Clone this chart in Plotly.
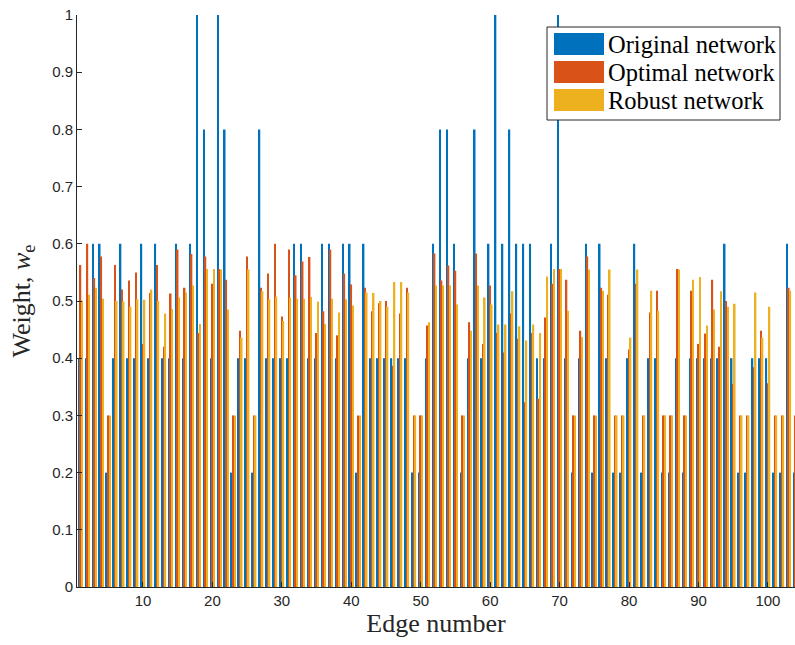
import plotly.graph_objects as go

edges = list(range(1, 105))

original = [0.4, 0.4, 0.6, 0.6, 0.2, 0.4, 0.6, 0.4, 0.4, 0.6,
            0.4, 0.6, 0.4, 0.4, 0.6, 0.4, 0.6, 1.0, 0.8, 0.4,
            1.0, 0.8, 0.2, 0.4, 0.4, 0.2, 0.8, 0.4, 0.4, 0.4,
            0.4, 0.6, 0.6, 0.4, 0.4, 0.6, 0.6, 0.4, 0.6, 0.6,
            0.2, 0.6, 0.4, 0.4, 0.4, 0.4, 0.4, 0.4, 0.2, 0.2,
            0.4, 0.6, 0.8, 0.8, 0.6, 0.2, 0.4, 0.8, 0.4, 0.6,
            1.0, 0.6, 0.8, 0.6, 0.6, 0.6, 0.4, 0.4, 0.6, 1.0,
            0.4, 0.2, 0.4, 0.6, 0.2, 0.6, 0.4, 0.2, 0.2, 0.4,
            0.6, 0.2, 0.4, 0.4, 0.2, 0.2, 0.4, 0.2, 0.4, 0.4,
            0.4, 0.4, 0.4, 0.6, 0.4, 0.2, 0.2, 0.4, 0.4, 0.4,
            0.2, 0.2, 0.6, 0.2]

optimal = [0.563, 0.600, 0.540, 0.578, 0.300, 0.563, 0.520, 0.536, 0.550, 0.425,
           0.514, 0.563, 0.420, 0.513, 0.590, 0.523, 0.582, 0.444, 0.578, 0.530,
           0.556, 0.537, 0.300, 0.448, 0.578, 0.300, 0.523, 0.548, 0.600, 0.473,
           0.590, 0.545, 0.569, 0.577, 0.444, 0.482, 0.590, 0.440, 0.548, 0.529,
           0.300, 0.523, 0.482, 0.496, 0.500, 0.387, 0.478, 0.523, 0.300, 0.300,
           0.457, 0.583, 0.536, 0.562, 0.553, 0.300, 0.463, 0.583, 0.425, 0.527,
           0.444, 0.410, 0.478, 0.434, 0.323, 0.444, 0.329, 0.471, 0.530, 0.556,
           0.537, 0.300, 0.448, 0.578, 0.300, 0.523, 0.511, 0.300, 0.300, 0.415,
           0.530, 0.300, 0.480, 0.518, 0.300, 0.300, 0.556, 0.300, 0.518, 0.425,
           0.443, 0.537, 0.420, 0.500, 0.355, 0.300, 0.300, 0.384, 0.448, 0.356,
           0.300, 0.300, 0.523, 0.300]

robust = [0.501, 0.511, 0.523, 0.504, 0.300, 0.500, 0.499, 0.490, 0.503, 0.502,
          0.520, 0.500, 0.478, 0.486, 0.506, 0.515, 0.527, 0.460, 0.556, 0.556,
          0.555, 0.485, 0.300, 0.436, 0.555, 0.300, 0.517, 0.503, 0.508, 0.465,
          0.506, 0.504, 0.504, 0.507, 0.499, 0.460, 0.504, 0.480, 0.503, 0.492,
          0.300, 0.515, 0.514, 0.500, 0.490, 0.533, 0.533, 0.515, 0.300, 0.300,
          0.463, 0.527, 0.527, 0.527, 0.494, 0.300, 0.448, 0.527, 0.506, 0.494,
          0.459, 0.459, 0.517, 0.456, 0.431, 0.459, 0.444, 0.543, 0.556, 0.556,
          0.483, 0.300, 0.437, 0.555, 0.300, 0.518, 0.555, 0.300, 0.300, 0.436,
          0.555, 0.300, 0.518, 0.483, 0.300, 0.300, 0.555, 0.300, 0.537, 0.542,
          0.457, 0.485, 0.517, 0.490, 0.495, 0.300, 0.300, 0.515, 0.436, 0.490,
          0.300, 0.300, 0.518, 0.300]

series_names = ["Original network", "Optimal network", "Robust network"]
colors = ["#0072BD", "#D95319", "#EDB120"]
x_ticks = [10, 20, 30, 40, 50, 60, 70, 80, 90, 100]
y_ticks = [0, 0.1, 0.2, 0.3, 0.4, 0.5, 0.6, 0.7, 0.8, 0.9, 1.0]
y_tick_labels = ["0", "0.1", "0.2", "0.3", "0.4", "0.5", "0.6", "0.7", "0.8", "0.9", "1"]

fig = go.Figure()
for name, vals, col in zip(series_names, [original, optimal, robust], colors):
    fig.add_trace(go.Bar(x=edges, y=vals, name=name, marker=dict(color=col, line=dict(width=0)),
                         showlegend=False))

axis_col = "#262626"
fig.update_layout(
    width=795, height=645,
    margin=dict(l=77, r=0, t=15, b=58),
    plot_bgcolor="white", paper_bgcolor="white",
    barmode="group", bargap=0.33, bargroupgap=0.0,
    xaxis=dict(range=[0.5, 103.9], tickvals=x_ticks, ticks="inside", ticklen=5,
               tickcolor=axis_col, showline=True, linecolor=axis_col, linewidth=1,
               showgrid=False, zeroline=False,
               tickfont=dict(family="Liberation Sans", size=15, color=axis_col),
               title=dict(text="Edge number", font=dict(family="Liberation Serif", size=26, color=axis_col),
                          standoff=4)),
    yaxis=dict(range=[0, 1], tickvals=y_ticks, ticktext=y_tick_labels, ticks="inside", ticklen=5,
               tickcolor=axis_col, showline=True, linecolor=axis_col, linewidth=1,
               showgrid=False, zeroline=False,
               tickfont=dict(family="Liberation Sans", size=15, color=axis_col),
               title=dict(text="Weight, <i>w</i><sub>e</sub>",
                          font=dict(family="Liberation Serif", size=26, color=axis_col),
                          standoff=14)),
)

# Manual legend (wide colour swatches as in the original)
lx0, lx1, ly0, ly1 = 547, 780, 27, 120
W = 795
fig.add_shape(type="rect", xref="paper", yref="paper",
              x0=(lx0 - 77) / (W - 77), x1=(lx1 - 77) / (W - 77),
              y0=(587 - ly1) / 572, y1=(587 - ly0) / 572,
              line=dict(color=axis_col, width=1), fillcolor="white", layer="above")
row_y = [44, 72, 100]
for name, col, yc in zip(series_names, colors, row_y):
    fig.add_shape(type="rect", xref="paper", yref="paper",
                  x0=(554 - 77) / (W - 77), x1=(604 - 77) / (W - 77),
                  y0=(587 - (yc + 11)) / 572, y1=(587 - (yc - 11)) / 572,
                  line=dict(width=0), fillcolor=col, layer="above")
    fig.add_annotation(xref="paper", yref="paper", x=(606 - 77) / (W - 77), y=(587 - yc) / 572,
                       text=name, showarrow=False, xanchor="left", yanchor="middle",
                       font=dict(family="Liberation Serif", size=24.5, color="black"))

fig.write_html("out.html")
